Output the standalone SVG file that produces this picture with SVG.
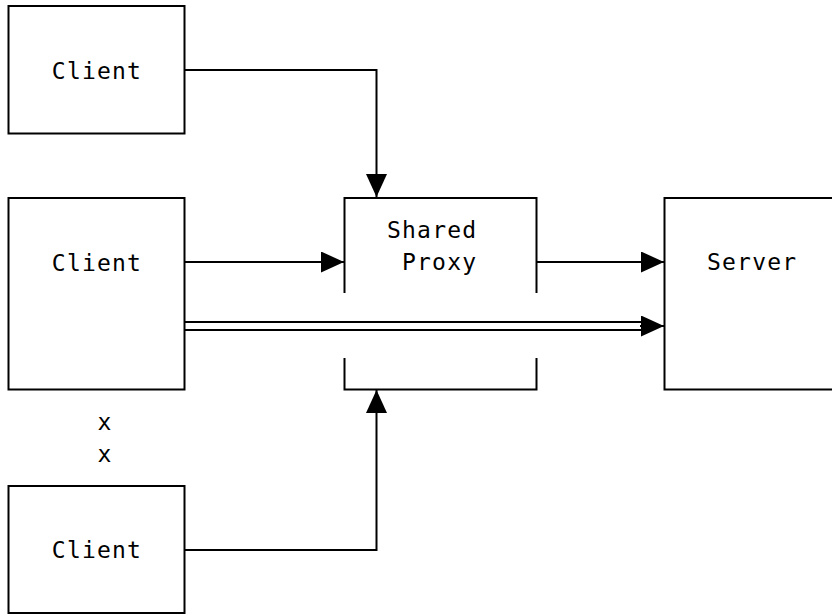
<svg xmlns="http://www.w3.org/2000/svg" width="832" height="615" viewBox="0 0 832 615">
<style>
.box{fill:none;stroke:#000;stroke-width:2}
.ln{fill:none;stroke:#000;stroke-width:2}
.t{font-family:"DejaVu Sans Mono","Liberation Mono",monospace;font-size:23px;fill:#000;letter-spacing:1.2px}
</style>
<defs>
<marker id="ah" viewBox="0 0 23 21" refX="23" refY="10.5" markerWidth="23" markerHeight="21" markerUnits="userSpaceOnUse" orient="auto">
<path d="M0,0 L23,10.5 L0,21 Z" fill="#000"/>
</marker>
</defs>
<rect width="832" height="615" fill="#fff"/>
<g id="client1"><rect class="box" x="8.5" y="6" width="176" height="127.5"/><text class="t" x="97" y="79" text-anchor="middle">Client</text></g>
<g id="client2"><rect class="box" x="8.5" y="198" width="176" height="191.5"/><text class="t" x="97" y="271" text-anchor="middle">Client</text></g>
<g id="client3"><rect class="box" x="8.5" y="486" width="176" height="127"/><text class="t" x="97" y="558" text-anchor="middle">Client</text></g>
<g id="proxy"><path class="box" d="M344.5,293 V198 H536.5 V293 M344.5,358 V389.5 H536.5 V358"/><text class="t" x="387" y="238">Shared</text><text class="t" x="402" y="270">Proxy</text></g>
<g id="server"><path class="box" d="M840,198 H664.5 V389.5 H840"/><text class="t" x="707" y="270">Server</text></g>
<g id="dots"><text class="t" x="105" y="430" text-anchor="middle">x</text><text class="t" x="105" y="462" text-anchor="middle">x</text></g>
<g id="connectors">
<path class="ln" d="M184.5,70 H376.5 V197" marker-end="url(#ah)"/>
<path class="ln" d="M184.5,262 H344" marker-end="url(#ah)"/>
<path class="ln" d="M536.5,262 H664" marker-end="url(#ah)"/>
<path class="ln" d="M184.5,322 H645"/>
<path class="ln" d="M184.5,330 H645"/>
<path class="ln" d="M640,326 H664" marker-end="url(#ah)"/>
<path class="ln" d="M184.5,550 H376.5 V390" marker-end="url(#ah)"/>
</g>
</svg>
